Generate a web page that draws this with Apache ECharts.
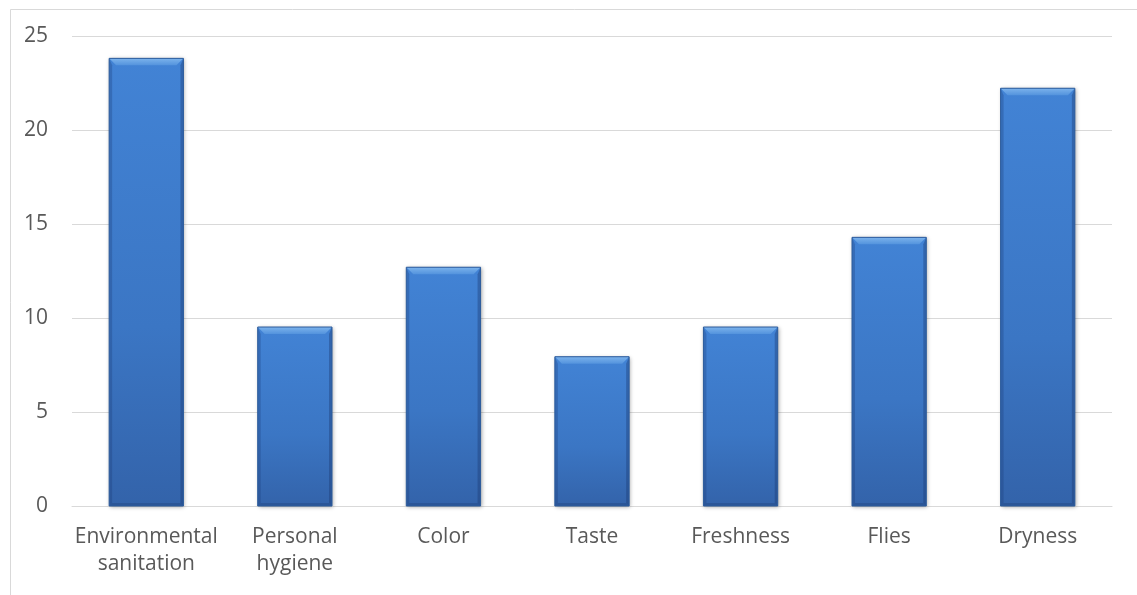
<!DOCTYPE html>
<html><head><meta charset="utf-8">
<script src="https://cdn.jsdelivr.net/npm/echarts@6/dist/echarts.min.js"></script>
<style>html,body{margin:0;padding:0;background:#fff}#c{width:1137px;height:595px}</style>
</head><body><div id="c"></div>
<script>
const categories = ["Environmental\nsanitation", "Personal\nhygiene", "Color", "Taste", "Freshness", "Flies", "Dryness"];
const values = [23.81, 9.52, 12.70, 7.94, 9.52, 14.29, 22.22];
const yTicks = [0, 5, 10, 15, 20, 25];

const chart = echarts.init(document.getElementById('c'), null, {renderer: 'canvas'});
const font = 'Open Sans';
const G = echarts.graphic;

function renderBar(params, api) {
  const cx = api.value(0), v = api.value(1);
  const top = api.coord([cx, v]);
  const base = api.coord([cx, 0]);
  const w = api.size([1, 0])[0] * 0.5;
  const x0 = top[0] - w / 2, x1 = top[0] + w / 2, y0 = top[1], y1 = base[1];
  const b = 7, s = 3;
  return {
    type: 'group',
    children: [
      {type: 'rect', shape: {x: x0, y: y0, width: w, height: y1 - y0},
        style: {fill: new G.LinearGradient(0, 0, 0, 1, [
          {offset: 0, color: '#4283d5'}, {offset: 0.6, color: '#3b76c4'}, {offset: 1, color: '#3363aa'}]),
          shadowColor: 'rgba(0,0,0,0.35)', shadowBlur: 4, shadowOffsetX: 1, shadowOffsetY: 1}},
      {type: 'polygon', shape: {points: [[x0, y0], [x1, y0], [x1 - b, y0 + b], [x0 + b, y0 + b]]},
        style: {fill: new G.LinearGradient(0, 0, 0, 1, [{offset: 0, color: '#7cb3ec'}, {offset: 1, color: '#5393dd'}])}},
      {type: 'polygon', shape: {points: [[x0, y0], [x0 + s, y0 + b], [x0 + s, y1 - s], [x0, y1]]},
        style: {fill: 'rgba(25,55,110,0.28)'}},
      {type: 'polygon', shape: {points: [[x1, y0], [x1 - s, y0 + b], [x1 - s, y1 - s], [x1, y1]]},
        style: {fill: 'rgba(25,55,110,0.38)'}},
      {type: 'polygon', shape: {points: [[x0, y1], [x0 + s, y1 - s], [x1 - s, y1 - s], [x1, y1]]},
        style: {fill: 'rgba(25,55,110,0.3)'}},
      {type: 'rect', shape: {x: x0, y: y0, width: w, height: y1 - y0},
        style: {fill: 'none', stroke: '#2d5c9c', lineWidth: 1}}
    ]
  };
}

chart.setOption({
  animation: false,
  backgroundColor: '#fff',
  graphic: [{type: 'rect', left: 8, top: 7, shape: {width: 1200, height: 700}, style: {fill: 'none', stroke: '#d9d9d9', lineWidth: 1}, z: -1}],
  grid: {left: 72, right: 25, top: 36, bottom: 89, containLabel: false},
  xAxis: {
    type: 'category', data: categories,
    axisLine: {show: true, lineStyle: {color: '#d9d9d9', width: 1}},
    axisTick: {show: false},
    axisLabel: {color: '#595959', fontFamily: font, fontSize: 21, lineHeight: 27, margin: 18, interval: 0}
  },
  yAxis: {
    type: 'value', min: yTicks[0], max: yTicks[yTicks.length - 1], interval: 5,
    axisLine: {show: false}, axisTick: {show: false},
    splitLine: {lineStyle: {color: '#d9d9d9', width: 1}},
    axisLabel: {color: '#595959', fontFamily: font, fontSize: 21, margin: 24}
  },
  series: [{
    type: 'custom', renderItem: renderBar,
    data: values.map((v, i) => [i, v]),
    encode: {x: 0, y: 1}
  }]
});
</script></body></html>
